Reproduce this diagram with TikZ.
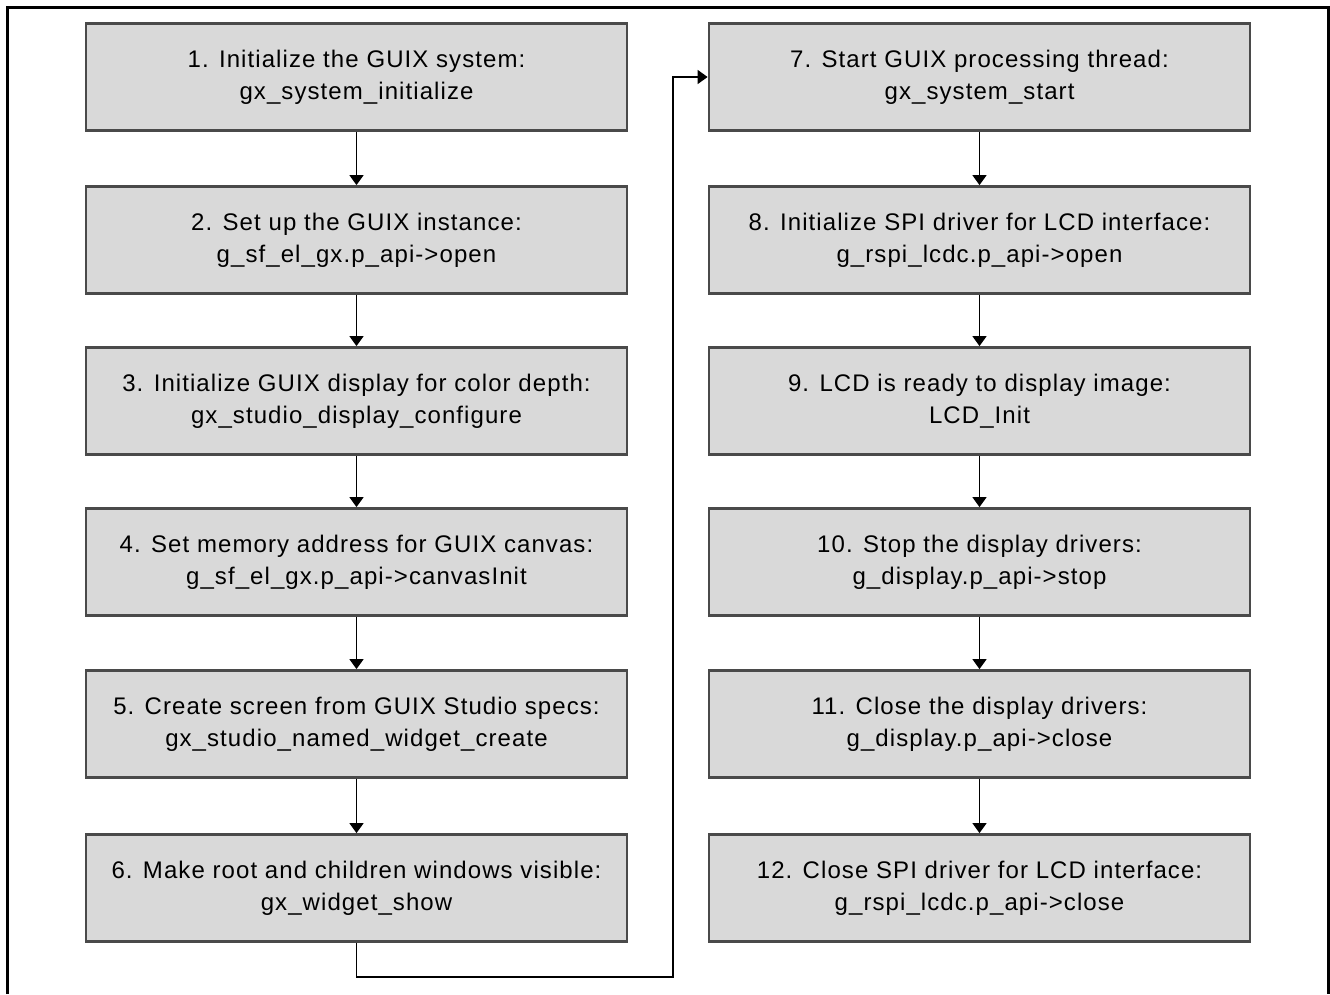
\documentclass[tikz,border=0pt]{standalone}
\usepackage{fontspec}
\setmainfont{Liberation Sans}[LetterSpace=4.5]
\usepackage{xcolor}
\usetikzlibrary{arrows.meta}

\definecolor{boxfill}{HTML}{D9D9D9}
\definecolor{boxline}{HTML}{4A4A4A}

\begin{document}
\begin{tikzpicture}[x=1pt,y=-1pt,
        stepbox/.style={draw=boxline,fill=boxfill,line width=2.8pt,
                minimum width=541pt,minimum height=107pt,inner sep=0pt,
                align=center,font=\fontsize{24}{32}\selectfont},
        flow/.style={line width=1.5pt,-{Triangle[width=14pt,length=10pt]}}]
        \useasboundingbox (0,0) rectangle (1330,994);
        %外框
        \draw[line width=3pt] (7,994) -- (7,7) -- (1328,7) -- (1328,994);
        %左列
        \node[stepbox] (b1) at (356.5,77) {1. Initialize the GUIX system:\\gx\_system\_initialize};
        \node[stepbox] (b2) at (356.5,240) {2. Set up the GUIX instance:\\g\_sf\_el\_gx.p\_api->open};
        \node[stepbox] (b3) at (356.5,401) {3. Initialize GUIX display for color depth:\\gx\_studio\_display\_configure};
        \node[stepbox] (b4) at (356.5,562) {4. Set memory address for GUIX canvas:\\g\_sf\_el\_gx.p\_api->canvasInit};
        \node[stepbox] (b5) at (356.5,724) {5. Create screen from GUIX Studio specs:\\gx\_studio\_named\_widget\_create};
        \node[stepbox] (b6) at (356.5,888) {6. Make root and children windows visible:\\gx\_widget\_show};
        %右列
        \node[stepbox] (b7) at (979.5,77) {7. Start GUIX processing thread:\\gx\_system\_start};
        \node[stepbox] (b8) at (979.5,240) {8. Initialize SPI driver for LCD interface:\\g\_rspi\_lcdc.p\_api->open};
        \node[stepbox] (b9) at (979.5,401) {9. LCD is ready to display image:\\LCD\_Init};
        \node[stepbox] (b10) at (979.5,562) {10. Stop the display drivers:\\g\_display.p\_api->stop};
        \node[stepbox] (b11) at (979.5,724) {11. Close the display drivers:\\g\_display.p\_api->close};
        \node[stepbox] (b12) at (979.5,888) {12. Close SPI driver for LCD interface:\\g\_rspi\_lcdc.p\_api->close};
        %箭头
        \foreach \a/\b in {1/2,2/3,3/4,4/5,5/6,7/8,8/9,9/10,10/11,11/12}
                \draw[flow] (b\a.south) -- (b\b.north);
        %从6到7
        \coordinate (turn) at (673,977);
        \draw[flow] (b6.south) |- (turn) |- (b7.west);
\end{tikzpicture}
\end{document}
